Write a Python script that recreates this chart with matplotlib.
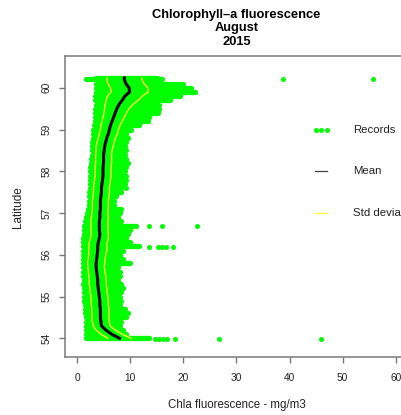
import matplotlib
matplotlib.use("Agg")
import matplotlib.pyplot as plt
import numpy as np

plt.rcParams['font.family'] = ['Liberation Sans', 'DejaVu Sans']

# ---- data ----
lat = [60.24, 60.2, 60.1, 60.0, 59.9, 59.8, 59.7, 59.6, 59.5, 59.4, 59.3, 59.2, 59.1, 59.0,
       58.9, 58.8, 58.7, 58.6, 58.5, 58.4, 58.3, 58.2, 58.1, 58.0,
       57.9, 57.8, 57.7, 57.6, 57.5, 57.4, 57.3, 57.2, 57.1, 57.0,
       56.9, 56.8, 56.7, 56.6, 56.5, 56.4, 56.3, 56.2, 56.1, 56.0,
       55.9, 55.8, 55.7, 55.6, 55.5, 55.4, 55.3, 55.2, 55.1, 55.0,
       54.9, 54.8, 54.7, 54.6, 54.5, 54.4, 54.3, 54.2, 54.1, 54.0]

rec_min = [3.5, 1.7, 3.6, 3.6, 3.5, 3.4, 3.4, 3.5, 3.4, 3.4, 3.3, 3.3, 3.2, 3.1,
           3.0, 3.0, 2.9, 2.9, 2.8, 2.8, 2.7, 2.6, 2.5, 2.5,
           2.5, 2.4, 2.4, 2.4, 2.3, 2.3, 2.3, 2.2, 2.1, 1.9,
           1.6, 1.5, 1.4, 1.3, 1.3, 1.2, 1.2, 1.1, 1.1, 1.1,
           1.2, 1.2, 1.1, 1.2, 1.2, 1.3, 1.2, 1.3, 1.3, 1.4,
           1.4, 1.5, 1.5, 1.5, 1.6, 1.6, 1.7, 1.7, 1.7, 1.7]

rec_max = [15.0, 16.0, 19.9, 21.5, 22.2, 19.3, 17.5, 15.5, 15.5, 15.2, 13.6, 13.3, 11.7, 10.2,
           9.3, 9.6, 9.3, 9.0, 9.3, 9.0, 9.3, 9.6, 9.3, 9.0,
           9.3, 9.3, 9.0, 8.2, 8.2, 7.4, 7.0, 7.0, 8.3, 8.0,
           7.7, 8.3, 11.1, 10.0, 9.6, 9.3, 10.0, 11.6, 8.7, 8.0,
           8.7, 10.0, 7.7, 8.0, 8.0, 7.7, 8.3, 8.7, 8.3, 8.0,
           8.3, 8.0, 9.1, 9.6, 9.3, 8.3, 8.0, 8.7, 9.3, 13.6]

mean_fluo = [8.9, 8.9, 9.2, 9.8, 9.9, 9.0, 8.5, 7.9, 7.5, 7.2, 6.9, 6.6, 6.3, 6.1,
             5.9, 5.6, 5.4, 5.2, 5.1, 5.0, 5.0, 5.0, 4.9, 4.9,
             4.9, 4.8, 4.7, 4.6, 4.6, 4.5, 4.4, 4.4, 4.4, 4.3,
             4.3, 4.2, 4.2, 4.2, 4.3, 4.2, 4.0, 3.9, 3.9, 3.8,
             3.7, 3.6, 3.6, 3.7, 3.8, 3.9, 3.9, 4.0, 4.1, 4.2,
             4.3, 4.3, 4.4, 4.4, 4.4, 4.5, 4.6, 5.4, 6.5, 8.0]

sd_fluo = [3.3, 3.3, 3.4, 3.5, 3.5, 3.3, 3.0, 2.6, 2.3, 2.1, 2.0, 1.9, 1.8, 1.7,
           1.7, 1.6, 1.6, 1.6, 1.5, 1.5, 1.5, 1.5, 1.5, 1.5,
           1.5, 1.5, 1.5, 1.5, 1.5, 1.5, 1.5, 1.5, 1.5, 1.5,
           1.6, 1.6, 1.6, 1.6, 1.6, 1.7, 1.7, 1.7, 1.7, 1.6,
           1.6, 1.6, 1.55, 1.55, 1.6, 1.6, 1.6, 1.6, 1.6, 1.6,
           1.6, 1.6, 1.6, 1.6, 1.6, 1.6, 1.6, 1.8, 2.0, 2.2]

out_x = [38.8, 55.7, 9.2, 13.6, 16.0, 22.5, 13.6, 15.2, 16.0, 16.8, 18.0,
         14.6, 15.4, 16.2, 17.0, 18.4, 26.7, 45.9]
out_lat = [60.2, 60.2, 57.6, 56.68, 56.68, 56.68, 56.19, 56.19, 56.19, 56.19, 56.19,
           53.99, 53.99, 53.99, 53.99, 53.99, 53.99, 53.99]

x_ticks = [0, 10, 20, 30, 40, 50, 60]
y_ticks = [54, 55, 56, 57, 58, 59, 60]
legend_labels = ["Records", "Mean", "Std deviation"]

GREEN = '#00ff00'
YELLOW = '#ffff33'
GRAY = '#7a7a7a'
TXT = '#222222'

W, H = 402, 415
fig = plt.figure(figsize=(W / 100, H / 100), dpi=100)
L, R, T, B = 65, 408, 55.7, 356.7
ax = fig.add_axes([L / W, (H - B) / H, (R - L) / W, (B - T) / H])
ax.set_xlim(-2.26, 62.3)
ax.set_ylim(53.56, 60.77)

# records cloud
ax.hlines(lat, rec_min, rec_max, colors=GREEN, linewidth=3.8, capstyle='round', zorder=2)
ax.plot(out_x, out_lat, 'o', color=GREEN, markersize=3.6, markeredgewidth=0, zorder=2)

m = np.array(mean_fluo)
s = np.array(sd_fluo)
ax.plot(m - s, lat, color=YELLOW, lw=1.0, zorder=3)
ax.plot(m + s, lat, color=YELLOW, lw=1.0, zorder=3)
ax.plot(m, lat, color='black', lw=2.2, zorder=4)

# legend (no box)
leg_y = [59.0, 58.0, 57.0]
ax.plot([44.9, 46.0, 47.1], [leg_y[0]] * 3, 'o', color=GREEN, markersize=3.6,
        markeredgewidth=0, clip_on=False)
ax.plot([44.8, 47.0], [leg_y[1]] * 2, color='#444444', lw=0.9)
ax.plot([44.8, 47.0], [leg_y[2]] * 2, color=YELLOW, lw=0.9)
for yy, lab in zip(leg_y, legend_labels):
    ax.text(52.0, yy, lab, fontsize=8.2, color=TXT, va='center', ha='left', clip_on=False)

# axes styling
for sp in ax.spines.values():
    sp.set_color(GRAY)
    sp.set_linewidth(1.1)
ax.set_xticks(x_ticks)
ax.set_yticks(y_ticks)
ax.set_xticklabels([str(v) for v in x_ticks])
ax.set_yticklabels([str(v) for v in y_ticks], rotation=90, va='center')
ax.tick_params(axis='both', direction='out', length=4, width=1, color=GRAY,
               labelsize=7.3, labelcolor=TXT)
ax.tick_params(axis='x', pad=7.5)
ax.tick_params(axis='y', pad=6)

fig.text((L + R) / 2 / W, 1 - 405 / H, "Chla fluorescence - mg/m3", fontsize=8.3,
         color=TXT, ha='center', va='center')
fig.text(18 / W, 1 - 207 / H, "Latitude", fontsize=8.5, color=TXT, rotation=90,
         ha='center', va='center')
title_lines = ["Chlorophyll\u2013a fluorescence", "August", "2015"]
for i, tl in enumerate(title_lines):
    fig.text((L + R) / 2 / W, 1 - (15 + 13.3 * i) / H, tl, fontsize=9.3,
             fontweight='bold', color='black', ha='center', va='center')

fig.savefig("out.png", dpi=100)
